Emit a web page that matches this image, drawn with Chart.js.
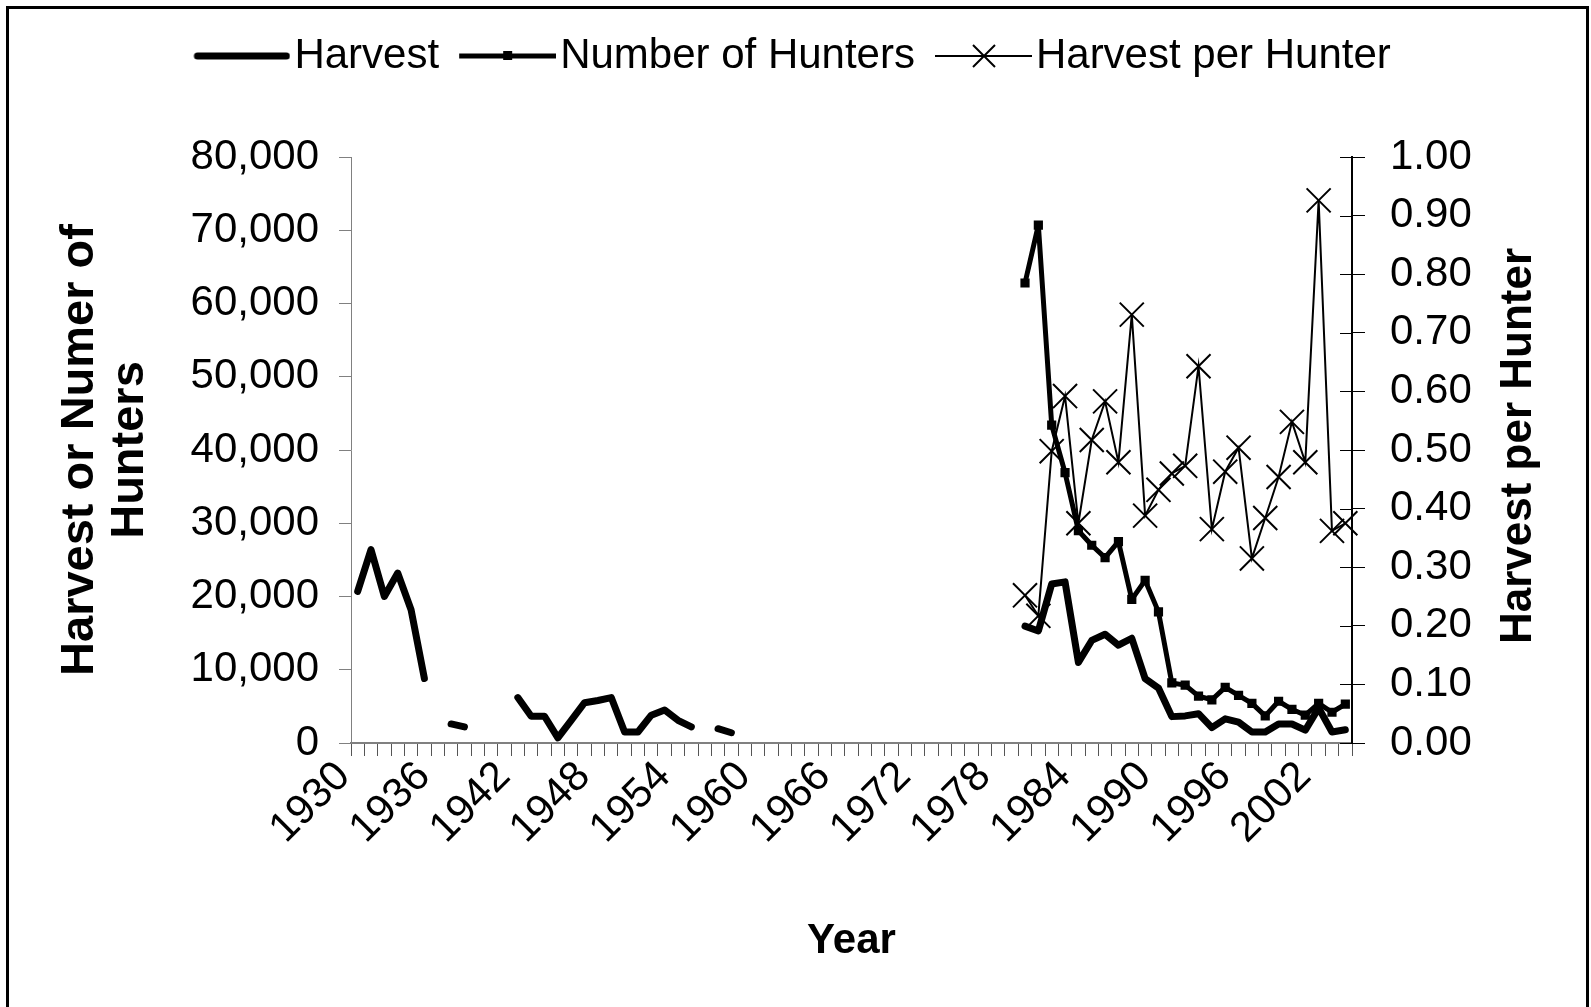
<!DOCTYPE html>
<html>
<head>
<meta charset="utf-8">
<title>Harvest and hunters</title>
<script src="https://cdn.jsdelivr.net/npm/chart.js@4.4.1/dist/chart.umd.min.js"></script>
<style>
  html, body { margin: 0; padding: 0; background: #fff; }
  #wrap { position: relative; width: 1591px; height: 1007px; overflow: hidden; }
  #frame { position: absolute; left: 6px; top: 6px; width: 1583px; height: 1020px; border: 3px solid #000; box-sizing: border-box; pointer-events: none; }
  canvas { position: absolute; left: 0; top: 0; }
</style>
</head>
<body>
<div id="wrap">
  <canvas id="myChart" width="1591" height="1007"></canvas>
  <div id="frame"></div>
</div>
<script>
// Years on the category axis (1930 - 2004)
const years = Array.from({ length: 75 }, (_, i) => 1930 + i);

// Harvest, one value per year (null = no data)
const harvest = [
  20700, 26400, 20000, 23200, 18200, 8800, null, 2600, 2200, null, // 1930s
  null, null, 6200, 3650, 3650, 700, 3100, 5500, 5800, 6200,       // 1940s
  1500, 1500, 3800, 4500, 3100, 2200, null, 1950, 1400, null,      // 1950s
  null, null, null, null, null, null, null, null, null, null,      // 1960s
  null, null, null, null, null, null, null, null, null, null,      // 1970s
  15950, 15300, 21700, 22000, 11000, 14000, 14850, 13350, 14300, 8800, // 1980s
  7500, 3600, 3700, 4000, 2100, 3300, 2850, 1500, 1500, 2600,      // 1990s
  2600, 1750, 4800, 1500, 1800                                     // 2000s
];

// Number of hunters and harvest per hunter, 1980 - 2004
const hunterYears = years.slice(50);
const hunters = [
  62800, 70700, 43400, 36900, 29000, 27000, 25300, 27500, 19600, 22200,
  17900, 8200, 7900, 6400, 5900, 7600, 6500, 5400, 3700, 5700,
  4600, 3800, 5400, 4200, 5300
];
const harvestPerHunter = [
  0.252, 0.217, 0.498, 0.592, 0.375, 0.517, 0.583, 0.479, 0.731, 0.388,
  0.432, 0.46, 0.473, 0.643, 0.365, 0.463, 0.504, 0.315, 0.384, 0.454,
  0.548, 0.479, 0.926, 0.362, 0.375
];

const tickLabelEvery = 6;
const FONT = "'Liberation Sans', Arial, sans-serif";

// put the 1980+ series on the full year axis
const byYear = (arr) => years.map(y => {
  const i = hunterYears.indexOf(y);
  return i < 0 ? null : arr[i];
});

// small pictures used as legend samples
function sample(kind) {
  const c = document.createElement("canvas");
  c.width = 124;
  c.height = 30;
  const g = c.getContext("2d");
  g.strokeStyle = "#000";
  g.fillStyle = "#000";
  g.lineCap = kind === "harvest" ? "round" : "butt";
  g.lineWidth = kind === "harvest" ? 7 : kind === "hunters" ? 5 : 2;
  g.beginPath();
  g.moveTo(kind === "harvest" ? 31 : 27, 15);
  g.lineTo(kind === "harvest" ? 120 : 124, 15);
  g.stroke();
  if (kind === "hunters") g.fillRect(71, 10, 9, 9);
  if (kind === "hph") {
    g.lineWidth = 2;
    g.beginPath();
    g.moveTo(65, 4); g.lineTo(87, 26);
    g.moveTo(87, 4); g.lineTo(65, 26);
    g.stroke();
  }
  return c;
}

// inner half of the right axis ticks + right axis title
const extras = {
  id: "extras",
  beforeDatasetsDraw(chart) {
    const s = chart.scales.y1;
    const ctx = chart.ctx;
    ctx.save();
    ctx.strokeStyle = "#000";
    ctx.lineWidth = 1;
    s.ticks.forEach(t => {
      const y = Math.round(s.getPixelForValue(t.value)) + 0.5;
      ctx.beginPath();
      ctx.moveTo(s.left - 12, y);
      ctx.lineTo(s.left, y);
      ctx.stroke();
    });
    ctx.restore();
  },
  afterDraw(chart) {
    const ctx = chart.ctx;
    const a = chart.chartArea;
    ctx.save();
    ctx.translate(1519, (a.top + a.bottom) / 2 - 4);
    ctx.rotate(-Math.PI / 2);
    ctx.font = "bold 44px " + FONT;
    ctx.fillStyle = "#000";
    ctx.textAlign = "center";
    ctx.textBaseline = "middle";
    ctx.fillText("Harvest per Hunter", 0, 0);
    ctx.restore();
  }
};

const data = {
  labels: years,
  datasets: [
    {
      label: "Harvest",
      data: harvest,
      yAxisID: "y",
      borderColor: "#000",
      borderWidth: 7,
      borderJoinStyle: "round",
      borderCapStyle: "round",
      pointRadius: 0,
      spanGaps: false,
    },
    {
      label: "Number of Hunters",
      data: byYear(hunters),
      yAxisID: "y",
      borderColor: "#000",
      borderWidth: 5,
      borderJoinStyle: "round",
      pointStyle: "rect",
      pointRadius: 6.5,
      pointBorderWidth: 0,
      pointBackgroundColor: "#000",
    },
    {
      label: "Harvest per Hunter",
      data: byYear(harvestPerHunter),
      yAxisID: "y1",
      borderColor: "#000",
      borderWidth: 2,
      pointStyle: "crossRot",
      pointRadius: 17,
      pointBorderWidth: 2,
      pointBorderColor: "#000",
    },
  ],
};

const config = {
  type: "line",
  data: data,
  plugins: [extras],
  options: {
    responsive: false,
    animation: false,
    layout: { padding: { top: 25, left: 0, right: 0, bottom: 0 } },
    plugins: {
      tooltip: { enabled: false },
      legend: {
        position: "top",
        labels: {
          usePointStyle: true,
          pointStyleWidth: 90,
          padding: 10,
          color: "#000",
          font: { family: FONT, size: 42 },
          generateLabels: () => [
            { text: "Harvest", pointStyle: sample("harvest"), datasetIndex: 0 },
            { text: "Number of Hunters", pointStyle: sample("hunters"), datasetIndex: 1 },
            // trailing thin spaces nudge the centred legend a little to the left
            { text: "Harvest per Hunter\u2009\u2009", pointStyle: sample("hph"), datasetIndex: 2 },
          ].map(it => ({ ...it, hidden: false, lineWidth: 0, fontColor: "#000" })),
        },
      },
      // empty title used only as a spacer below the legend
      title: {
        display: true,
        text: " ",
        weight: 500,
        font: { size: 10 },
        padding: { top: 0, bottom: 58 },
      },
    },
    scales: {
      x: {
        type: "category",
        offset: true,
        grid: { offset: true, drawOnChartArea: false, tickLength: 13, color: "#555" },
        border: { color: "#808080", width: 2 },
        ticks: {
          autoSkip: false,
          maxRotation: 45,
          minRotation: 45,
          padding: -4,
          labelOffset: -14,
          color: "#000",
          font: { family: FONT, size: 42 },
          callback: (v, i) => ((years[i] - 1930) % tickLabelEvery === 0 ? String(years[i]) : ""),
        },
        title: {
          display: true,
          text: "Year",
          color: "#000",
          font: { family: FONT, size: 42, weight: "bold" },
          padding: { top: 0, bottom: 40 },
        },
        afterFit: (s) => { s.height = 264; },
      },
      y: {
        position: "left",
        min: 0,
        max: 80000,
        grid: { drawOnChartArea: false, tickLength: 12, color: "#808080" },
        border: { color: "#808080", width: 1 },
        ticks: {
          stepSize: 10000,
          padding: 20,
          color: "#000",
          font: { family: FONT, size: 42 },
          callback: (v) => v.toLocaleString("en-US"),
        },
        title: {
          display: true,
          text: ["Harvest or Numer of", "Hunters"],
          color: "#000",
          font: { family: FONT, size: 47, weight: "bold", lineHeight: 1.07 },
          padding: { top: 55, bottom: 0 },
        },
        afterFit: (s) => { s.width = 351; },
      },
      y1: {
        position: "right",
        min: 0,
        max: 1,
        grid: { drawOnChartArea: false, tickLength: 13, color: "#000" },
        border: { color: "#000", width: 2 },
        ticks: {
          stepSize: 0.1,
          padding: 25,
          color: "#000",
          font: { family: FONT, size: 42 },
          callback: (v) => v.toFixed(2),
        },
        afterFit: (s) => { s.width = 239; },
      },
    },
  },
};

const ctx = document.getElementById("myChart").getContext("2d");
const myChart = new Chart(ctx, config);
</script>
</body>
</html>
